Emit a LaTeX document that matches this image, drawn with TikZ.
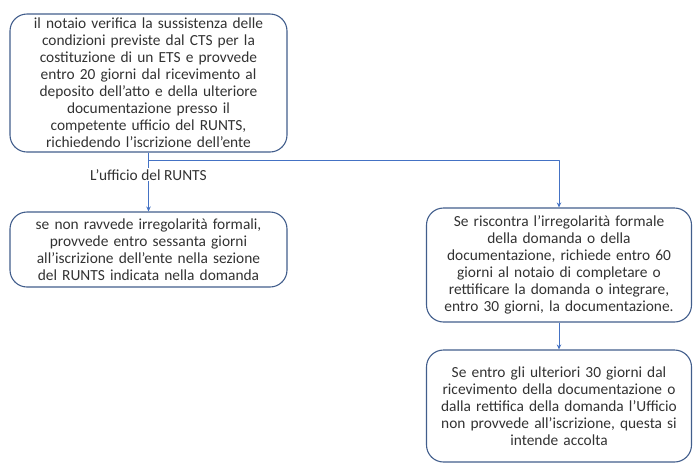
\documentclass[tikz,border=0pt]{standalone}
\usepackage{fontspec}
\setmainfont{Carlito}
\usepackage{xcolor}
\usetikzlibrary{arrows.meta,positioning}

\definecolor{boxline}{RGB}{66,94,140}
\definecolor{flowline}{RGB}{68,114,196}
\definecolor{boxtext}{RGB}{50,50,50}

\begin{document}
\begin{tikzpicture}[x=1pt,y=-1pt,font=\fontsize{15.4}{17}\selectfont,line join=round,
  stepbox/.style={draw=boxline,line width=1.1pt,rounded corners=17pt,text=boxtext,
    align=center,inner xsep=2pt,inner ysep=3pt},
  flow/.style={flowline,line width=0.8pt,-{Stealth[length=5pt,width=4.5pt]}}]

  \useasboundingbox (0,0) rectangle (696,464);

  %% ---------------------------------------------------------------
  %% the four boxes
  %% ---------------------------------------------------------------
  % notaio: text slightly overflows the frame
  \node[stepbox,text width=273pt,minimum height=138pt,inner ysep=-6pt] (notaio) at (148.5,83)
    {il notaio verifica la sussistenza delle\\
     condizioni previste dal CTS per la\\
     costituzione di un ETS e provvede\\
     entro 20 giorni dal ricevimento al\\
     deposito dell’atto e della ulteriore\\
     documentazione presso il\\
     competente ufficio del RUNTS,\\
     richiedendo l’iscrizione dell’ente};

  \node[stepbox,text width=273pt,minimum height=75pt] (iscrizione) at (148.5,249.5)
    {se non ravvede irregolarità formali,\\
     provvede entro sessanta giorni\\
     all’iscrizione dell’ente nella sezione\\
     del RUNTS indicata nella domanda};

  \node[stepbox,text width=261pt,minimum height=114pt] (irregolare) at (559,265)
    {Se riscontra l’irregolarità formale\\
     della domanda o della\\
     documentazione, richiede entro 60\\
     giorni al notaio di completare o\\
     rettificare la domanda o integrare,\\
     entro 30 giorni, la documentazione.};

  \node[stepbox,text width=261pt,minimum height=112pt] (accolta) at (559,406)
    {Se entro gli ulteriori 30 giorni dal\\
     ricevimento della documentazione o\\
     dalla rettifica della domanda l’Ufficio\\
     non provvede all’iscrizione, questa si\\
     intende accolta};

  %% ---------------------------------------------------------------
  %% connectors
  %% ---------------------------------------------------------------
  \draw[flow] (notaio.south) -- node[pos=0.38,fill=white,text=boxtext,inner sep=1pt] (ufficio)
    {L’ufficio del RUNTS} (iscrizione.north);
  \draw[flow] (notaio.south) -- ++(0,8) -| (irregolare.north);
  \draw[flow] (irregolare.south) -- (accolta.north);

\end{tikzpicture}
\end{document}
